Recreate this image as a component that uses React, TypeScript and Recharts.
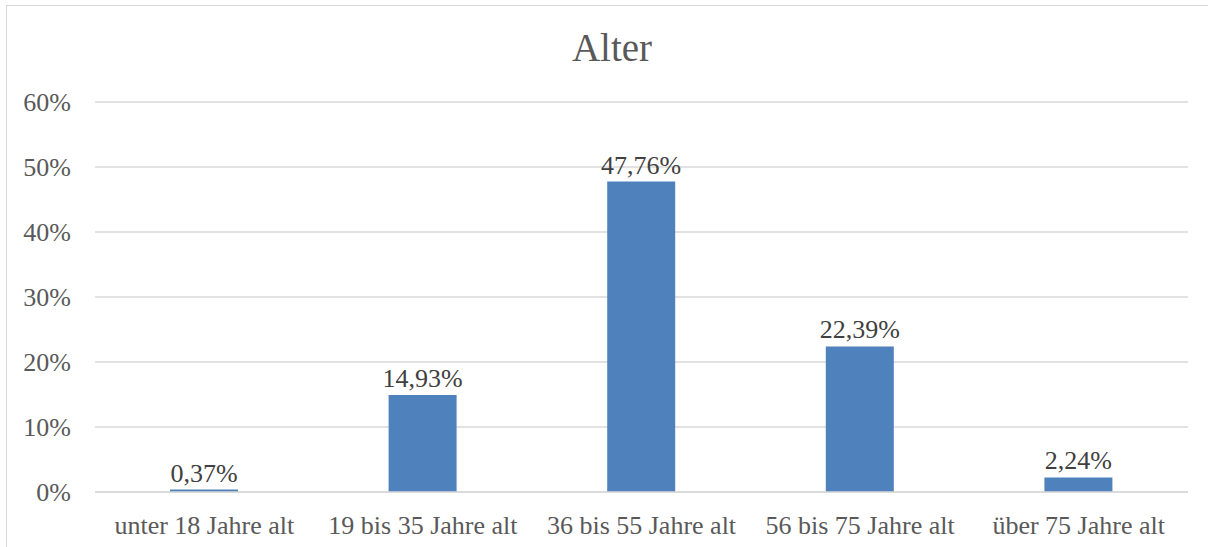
import React from "react"
import { Bar, BarChart, CartesianGrid, LabelList, XAxis, YAxis } from "recharts"

const categories = ["unter 18 Jahre alt", "19 bis 35 Jahre alt", "36 bis 55 Jahre alt", "56 bis 75 Jahre alt", "über 75 Jahre alt"]
const shares = [0.37, 14.93, 47.76, 22.39, 2.24]
const yTicks = [0, 10, 20, 30, 40, 50, 60]

const data = categories.map((name, i) => ({ name, value: shares[i] }))

const font = "'Liberation Serif', serif"
const textColor = "#595959"

const pct = (v: number) => `${v.toFixed(2).replace(".", ",")}%`

export default function App() {
  return (
    <div style={{ position: "absolute", left: 0, top: 0, width: 1208, height: 547, overflow: "hidden", background: "#fff", fontFamily: font }}>
      <div style={{ position: "absolute", left: 6, top: 5, width: 1220, height: 560, border: "1.5px solid #d9d9d9" }} />
      <div style={{ position: "absolute", left: 0, width: 1224, top: 27, lineHeight: 1.1, textAlign: "center", fontSize: 39, color: textColor }}>Alter</div>
      <BarChart width={1208} height={547} data={data} margin={{ top: 102, right: 20, left: 0, bottom: 0 }}>
        <CartesianGrid vertical={false} stroke="#d9d9d9" strokeWidth={1.5} />
        <XAxis
          dataKey="name"
          axisLine={{ stroke: "#d9d9d9", strokeWidth: 1.5 }}
          tickLine={false}
          tickSize={0}
          tickMargin={24}
          height={55}
          interval={0}
          tick={{ fill: textColor, fontSize: 26, fontFamily: font }}
        />
        <YAxis
          domain={[0, 60]}
          ticks={yTicks}
          axisLine={false}
          tickLine={false}
          tickSize={0}
          tickMargin={24}
          width={95}
          tickFormatter={(v: number) => `${v}%`}
          tick={{ fill: textColor, fontSize: 26, fontFamily: font }}
        />
        <Bar dataKey="value" fill="#4F81BD" barSize={68} isAnimationActive={false}>
          <LabelList dataKey="value" position="top" offset={8} formatter={(v: number) => pct(v)} style={{ fill: "#404040", fontSize: 26, fontFamily: font }} />
        </Bar>
      </BarChart>
    </div>
  )
}
